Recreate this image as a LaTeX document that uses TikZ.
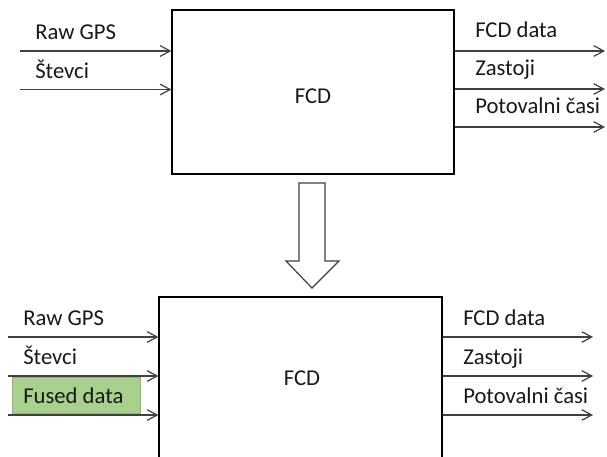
\documentclass[tikz,border=0pt]{standalone}
\usepackage{fontspec}
\setmainfont{Carlito}
\usetikzlibrary{arrows.meta}
\definecolor{linegray}{HTML}{404040}
\definecolor{fusedgreen}{RGB}{169,209,142}
\tikzset{
  blk/.style={draw=black, line width=0.9pt, inner sep=0pt},
  arr/.style={draw=linegray, line width=0.9pt, -{Straight Barb[length=7.5pt,width=8pt,line width=0.9pt]}},
  lbl/.style={anchor=base west, inner sep=0pt, font=\fontsize{17}{20}\selectfont, text=black!90},
}
\begin{document}
\begin{tikzpicture}[x=0.75pt,y=-0.75pt]
\useasboundingbox (0,0) rectangle (607,457);
\clip (0,0) rectangle (607,457);
\fill[white] (0,0) rectangle (607,457);
% top block
\node[blk, minimum width=282*0.75pt, minimum height=164*0.75pt] (top) at (313,92) {};
\node[lbl, anchor=center] (topfcd) at (313,96) {FCD};
\coordinate (ti1) at (20,51);
\coordinate (ti2) at (20,89.5);
\draw[arr] (ti1) -- (ti1 -| top.west);
\draw[arr] (ti2) -- (ti2 -| top.west);
\node[lbl] (tl1) at (35,39) {Raw GPS};
\node[lbl] (tl2) at (35,78) {Števci};
\coordinate (to1) at (605,51);
\coordinate (to2) at (605,89);
\coordinate (to3) at (605,127);
\draw[arr] (to1 -| top.east) -- (to1);
\draw[arr] (to2 -| top.east) -- (to2);
\draw[arr] (to3 -| top.east) -- (to3);
\node[lbl] (tr1) at (475,37) {FCD data};
\node[lbl] (tr2) at (475,75) {Zastoji};
\node[lbl] (tr3) at (475,113) {Potovalni časi};
% block arrow
\draw[draw=black!75, line width=0.9pt, fill=white]
  (299,183) -- (325,183) -- (325,261) -- (339,261) -- (312,288) -- (286,261) -- (299,261) -- cycle;
% bottom block
\node[blk, minimum width=283*0.75pt, minimum height=180*0.75pt] (bot) at (300.5,387) {};
\node[lbl, anchor=center] (botfcd) at (302,378) {FCD};
\node[fill=fusedgreen, draw=fusedgreen!85!black, line width=0.4pt, minimum width=128*0.75pt, minimum height=36*0.75pt, inner sep=0pt] (fused) at (76,395.5) {};
\coordinate (bi1) at (8,337);
\coordinate (bi2) at (8,376);
\coordinate (bi3) at (8,415);
\draw[arr] (bi1) -- (bi1 -| bot.west);
\draw[arr] (bi2) -- (bi2 -| bot.west);
\draw[arr] (bi3) -- (bi3 -| bot.west);
\node[lbl] (bl1) at (23,325) {Raw GPS};
\node[lbl] (bl2) at (23,364) {Števci};
\node[lbl] (bl3) at (23,403) {Fused data};
\coordinate (bo1) at (593,337);
\coordinate (bo2) at (593,376);
\coordinate (bo3) at (593,415);
\draw[arr] (bo1 -| bot.east) -- (bo1);
\draw[arr] (bo2 -| bot.east) -- (bo2);
\draw[arr] (bo3 -| bot.east) -- (bo3);
\node[lbl] (br1) at (463,325) {FCD data};
\node[lbl] (br2) at (463,364) {Zastoji};
\node[lbl] (br3) at (463,403) {Potovalni časi};
\end{tikzpicture}
\end{document}
